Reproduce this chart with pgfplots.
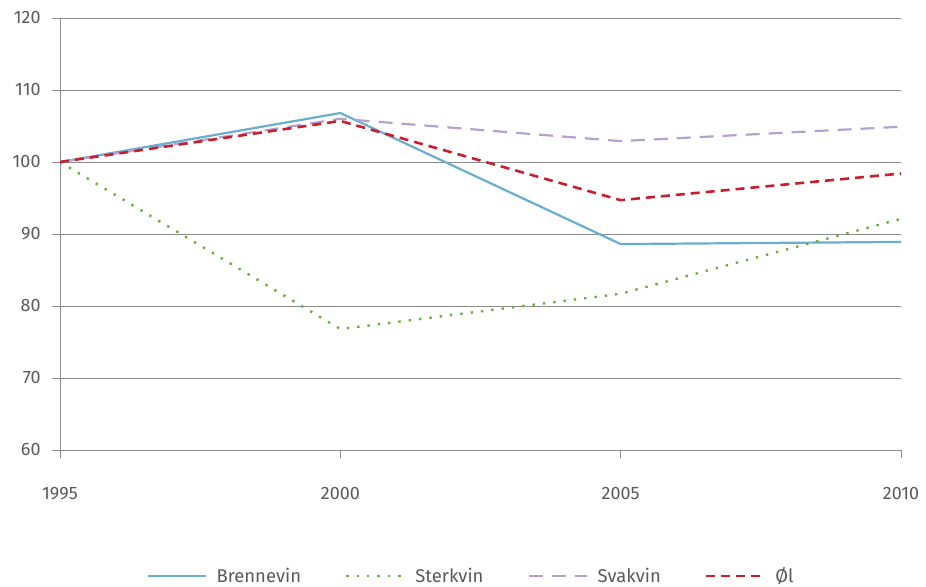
\documentclass[border=0pt]{standalone}
\usepackage{fontspec}
\setmainfont{Fira Sans}
\usepackage{pgfplots}
\pgfplotsset{compat=1.18}
\definecolor{cBren}{HTML}{6AADCF}
\definecolor{cSterk}{HTML}{6BAE3F}
\definecolor{cSvak}{HTML}{B3A2CF}
\definecolor{cOl}{HTML}{C81E2E}
\definecolor{cTxt}{HTML}{595959}
\definecolor{cGrid}{HTML}{8C8C8C}
\begin{document}
\begin{tikzpicture}
\begin{axis}[
  at={(60bp,137bp)}, anchor=south west,
  scale only axis, width=841bp, height=432bp,
  xmin=1995, xmax=2010, ymin=60, ymax=120,
  xtick={1995,2000,2005,2010}, ytick={60,70,...,120},
  xticklabel style={yshift=-26bp},
  yticklabel style={xshift=-8bp},
  axis x line*=bottom, axis y line*=left,
  axis line style={cGrid, line width=0.9bp, -},
  ymajorgrids, grid style={cGrid, line width=0.9bp},
  tick style={cGrid, line width=0.9bp},
  tick align=outside, major tick length=8bp,
  /pgf/number format/assume math mode=true,
  /pgf/number format/1000 sep={},
  tick label style={font=\fontsize{18}{21}\selectfont, text=cTxt},
  legend style={at={(411bp,-126bp)}, anchor=center, draw=none, fill=none,
    legend columns=4, font=\fontsize{18.5}{21}\selectfont, text=cTxt,
    /tikz/every odd column/.append style={column sep=8bp},
    /tikz/every even column/.append style={column sep=42bp}},
  legend cell align=left,
  legend image code/.code={\draw[#1] (0bp,0bp) -- (58bp,0bp);},
]
\addplot[cBren, line width=2.2bp] coordinates {(1995,100) (2000,106.8) (2005,88.6) (2010,88.9)};
\addlegendentry{Brennevin}
\addplot[cSterk, line width=2.4bp, dash pattern=on 2.4bp off 8bp] coordinates {(1995,100) (2000,76.8) (2005,81.7) (2010,92.1)};
\addlegendentry{Sterkvin}
\addplot[cSvak, line width=2.2bp, dash pattern=on 14bp off 9bp] coordinates {(1995,100) (2000,106) (2005,102.9) (2010,104.9)};
\addlegendentry{Svakvin}
\addplot[cOl, line width=2.6bp, dash pattern=on 9bp off 6bp] coordinates {(1995,100) (2000,105.7) (2005,94.7) (2010,98.4)};
\addlegendentry{Øl}
\end{axis}
\pgfresetboundingbox
\useasboundingbox (0,0) rectangle (926bp,587bp);
\end{tikzpicture}
\end{document}
